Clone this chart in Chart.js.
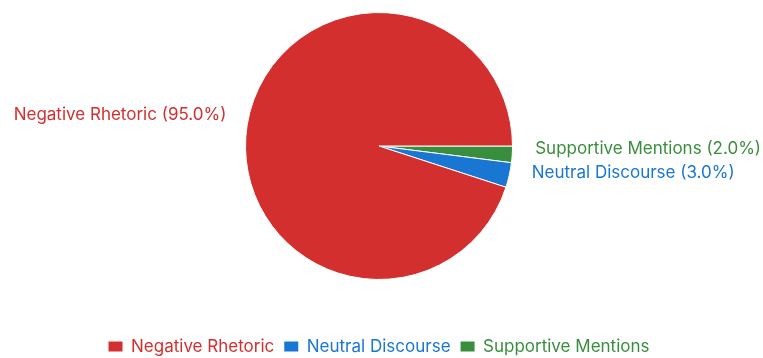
<!DOCTYPE html>
<html>
<head>
<meta charset="utf-8">
<script src="https://cdn.jsdelivr.net/npm/chart.js@4.4.0/dist/chart.umd.min.js"></script>
<style>
  html, body { margin: 0; padding: 0; background: #fff; }
  #wrap { width: 763px; height: 358px; }
</style>
</head>
<body>
<div id="wrap"><canvas id="pieChart" width="763" height="358"></canvas></div>
<script>
// drawn clockwise from 3 o'clock; legend is reversed to read Negative, Neutral, Supportive
const categories = ['Supportive Mentions', 'Neutral Discourse', 'Negative Rhetoric'];
const shares = [2.0, 3.0, 95.0];
const colors = ['#388e3c', '#1976d2', '#d32f2f'];

const FONT = 'Inter, Roboto, sans-serif';

// outside labels "Name (xx.x%)" next to each slice
const sliceLabels = {
    id: 'sliceLabels',
    afterDatasetsDraw(chart) {
        const ctx = chart.ctx;
        const arcs = chart.getDatasetMeta(0).data;
        ctx.save();
        ctx.font = '17px ' + FONT;
        ctx.textBaseline = 'middle';
        arcs.forEach((arc, i) => {
            const mid = (arc.startAngle + arc.endAngle) / 2;
            const r = arc.outerRadius + 23;
            const x = arc.x + Math.cos(mid) * r + (Math.cos(mid) < 0 ? 2 : 0);
            const y = arc.y + Math.sin(mid) * r - 7;
            ctx.fillStyle = colors[i];
            ctx.textAlign = Math.cos(mid) < 0 ? 'right' : 'left';
            ctx.fillText(categories[i] + ' (' + shares[i].toFixed(1) + '%)', x, y);
        });
        ctx.restore();
    }
};

const chart = new Chart(document.getElementById('pieChart'), {
    type: 'pie',
    data: {
        labels: categories,
        datasets: [{
            data: shares,
            backgroundColor: colors,
            borderColor: '#ffffff',
            borderWidth: 1,
        }],
    },
    options: {
        responsive: false,
        animation: false,
        rotation: 90,
        layout: { padding: { top: 12, bottom: -7, left: 0, right: 5 } },
        plugins: {
            tooltip: { enabled: false },
            legend: {
                position: 'bottom',
                reverse: true,
                // empty title only used as a spacer above the legend row
                title: { display: true, text: ' ', font: { size: 10, lineHeight: 1 }, padding: { top: 38, bottom: 0 } },
                labels: {
                    boxWidth: 14,
                    boxHeight: 10,
                    padding: 10,
                    font: { family: FONT, size: 17 },
                    generateLabels(c) {
                        return categories.map((name, i) => ({
                            text: name,
                            fillStyle: colors[i],
                            strokeStyle: colors[i],
                            fontColor: colors[i],
                            lineWidth: 0,
                            index: i,
                            datasetIndex: 0,
                        }));
                    },
                },
            },
        },
    },
    plugins: [sliceLabels],
});
</script>
</body>
</html>
